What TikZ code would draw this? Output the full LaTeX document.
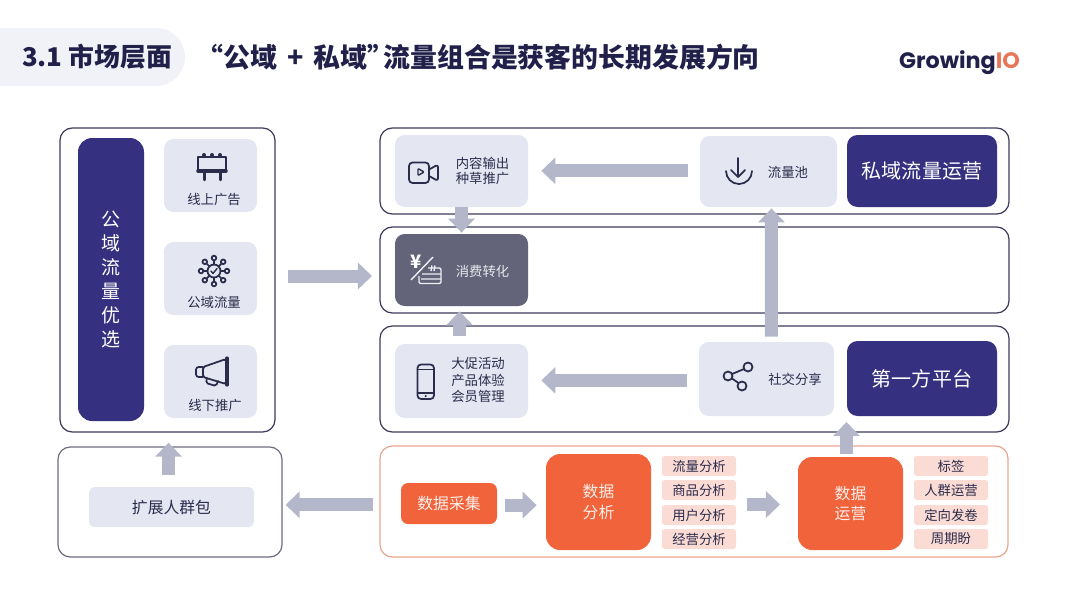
\documentclass[tikz,border=0pt]{standalone}
\usepackage{fontspec}
\setmainfont{Noto Sans CJK SC}
\newfontfamily\logofont{Poppins}
\usetikzlibrary{arrows.meta}

\definecolor{navy}{HTML}{35307F}
\definecolor{pillgray}{HTML}{F1F2F7}
\definecolor{cardblue}{HTML}{E4E7F2}
\definecolor{saledark}{HTML}{63637A}
\definecolor{brandorange}{HTML}{F0633B}
\definecolor{peach}{HTML}{FBDCD5}
\definecolor{framedark}{HTML}{3D3B5C}
\definecolor{frameorange}{HTML}{E9A48E}
\definecolor{framegray}{HTML}{6D6D7F}
\definecolor{flowgray}{HTML}{B4B7CA}
\definecolor{ink}{HTML}{2B2B4B}
\definecolor{titleink}{HTML}{20204A}
\definecolor{logoorange}{HTML}{E8775A}

\tikzset{
  wh/.style 2 args={minimum width=#1*0.02cm, minimum height=#2*0.02cm, inner sep=0pt},
  frame/.style={draw=framedark, line width=0.7pt, rounded corners=7pt},
  card/.style={fill=cardblue, rounded corners=5.5pt},
  darkcard/.style={fill=navy, rounded corners=6pt, text=white, align=center},
  orangebox/.style={fill=brandorange, rounded corners=4pt, text=white!90!brandorange, align=center},
  tagbox/.style={fill=peach, rounded corners=1.5pt, wh={74}{20}, font=\smalltext, text=ink},
  label/.style={font=\smalltext, text=ink, align=center, inner sep=0pt},
  flowarrow/.style={draw=flowgray, line width=7.4pt, -{Triangle[length=8pt,width=14.8pt]}},
  iconline/.style={draw=ink, line width=1pt, line join=round, line cap=round},
}
\newcommand{\smalltext}{\fontsize{7.6pt}{9.6pt}\selectfont}
\newcommand{\midtext}{\fontsize{9pt}{11.4pt}\selectfont}
\newcommand{\bigtext}{\fontsize{11.4pt}{14pt}\selectfont}

\begin{document}
\begin{tikzpicture}[x=0.02cm,y=-0.02cm]
\useasboundingbox (0,0) rectangle (1080,603);

% header
\fill[pillgray] (0,28) [rounded corners=16.5pt] -- (185,28) -- (185,86) [sharp corners] -- (0,86) -- cycle;
\node[text=titleink, font=\bfseries\fontsize{14.7pt}{16pt}\selectfont, inner sep=0pt] (section) at (97,57) {3.1 市场层面};
\node[text=titleink, font=\bfseries\fontsize{15.3pt}{17pt}\selectfont, inner sep=0pt, anchor=west] (headline) at (196,57) {“公域\hspace{2.3pt} + \hspace{2.3pt}私域”\hspace{-6.2pt}流量组合是获客的长期发展方向};
\node[font=\logofont\bfseries\fontsize{12.7pt}{15pt}\selectfont, inner sep=0pt] (logo) at (959.5,63) {\textcolor{titleink}{Growing}\textcolor{logoorange}{IO}};

% frames
\node[frame, wh={215}{304}] (pubframe) at (167.5,280) {};
\node[frame, wh={629}{86}] (privframe) at (694.5,171) {};
\node[frame, wh={629}{86}] (saleframe) at (694.5,270) {};
\node[frame, wh={629}{106}] (firstframe) at (694.5,379) {};
\node[frame, draw=framegray, wh={224}{110}] (expandframe) at (170,502) {};
\node[frame, draw=frameorange, wh={628}{111}] (dataframe) at (694,501.5) {};

% public traffic column
\node[darkcard, wh={66}{283}, rounded corners=8pt, font=\fontsize{10.8pt}{13.6pt}\selectfont] (pubcol) at (111,279.5) {公\\域\\流\\量\\优\\选};
\node[card, wh={93}{73}] (adcard) at (210.5,175.5) {};
\node[card, wh={93}{73}] (hubcard) at (210.5,278.5) {};
\node[card, wh={93}{73}] (pushcard) at (210.5,381.5) {};
\node[label] (adlabel) at (214,199) {线上广告};
\node[label] (hublabel) at (214,302) {公域流量};
\node[label] (pushlabel) at (215,405) {线下推广};

% billboard
\draw[iconline] (198,157) rectangle (226,171);
\draw[iconline, line width=2pt] (198,171) -- (226,171);
\draw[iconline, line width=1.4pt] (204.5,171) -- (204.5,180) (220.5,171) -- (220.5,180);
\fill[ink] (204,155) circle (2) (212,155) circle (2) (220,155) circle (2);

% hub
\begin{scope}[shift={(214,271)}]
\draw[iconline] (0,0) circle (6.5);
\draw[iconline, line width=0.8pt] (-3,0) -- (-1,2.5) -- (3,-2.5);
\draw[iconline]
  (0:6.5) -- (0:10.7) (0:13) circle (2.3)
  (45:6.5) -- (45:10.7) (45:13) circle (2.3)
  (90:6.5) -- (90:10.7) (90:13) circle (2.3)
  (135:6.5) -- (135:10.7) (135:13) circle (2.3)
  (180:6.5) -- (180:10.7) (180:13) circle (2.3)
  (225:6.5) -- (225:10.7) (225:13) circle (2.3)
  (270:6.5) -- (270:10.7) (270:13) circle (2.3)
  (315:6.5) -- (315:10.7) (315:13) circle (2.3);
\end{scope}

% megaphone
\draw[iconline, rounded corners=1pt] (203,367) -- (226,359) -- (226,384) -- (203,377) -- cycle;
\draw[iconline, rounded corners=1.5pt] (203,367) -- (196,367) -- (196,377) -- (203,377);
\draw[iconline, line width=1.8pt] (227,358) -- (227,385);
\draw[iconline, rounded corners=1pt] (207,378) -- (206,383) -- (216,386) -- (218,381);

% private row
\node[card, wh={133}{72}] (contentcard) at (461.5,171) {};
\node[label, text depth=0pt, font=\fontsize{7.6pt}{8.6pt}\selectfont] (contentlabel) at (482.5,170.5) {内容输出\\种草推广};
\node[card, wh={137}{71}] (poolcard) at (768.5,171.5) {};
\node[label] (poollabel) at (788,172) {流量池};
\node[darkcard, wh={150}{72}, font=\bigtext] (privbox) at (922,171) {私域流量运营};

% video icon
\draw[iconline, rounded corners=2pt] (409,162.5) rectangle (429,183);
\draw[iconline, line width=0.8pt, rounded corners=0.5pt] (418,168.5) -- (424,172) -- (418,175.5) -- cycle;
\draw[iconline, rounded corners=1.5pt] (430,169) -- (438,164.5) -- (438,181) -- (430,176.5);

% download icon
\draw[iconline] (738,158) -- (738,177) (731,170) -- (738,177) -- (745,170);
\draw[iconline] (726,171) arc (180:0:13);

% conversion row
\node[card, fill=saledark, wh={133}{72}] (salecard) at (461.5,270) {};
\node[label, text=white!85!saledark] (salelabel) at (482.5,271) {消费转化};
\node[text=white, font=\bfseries\fontsize{10.5pt}{12pt}\selectfont, inner sep=0pt] (yuan) at (416,262) {¥};
\draw[white!90!saledark, line width=0.8pt] (411,280) -- (433,257);
\draw[white!90!saledark, line width=0.8pt, rounded corners=0.8pt] (428,268) -- (441,268) -- (441,283.5) -- (419,283.5) -- (419,276);
\draw[white!90!saledark, line width=0.8pt] (422,274) -- (441,274) (421,279) -- (441,279) (431,271) -- (432,265.5) (434,271) -- (435,265.5);

% first party row
\node[card, wh={133}{74}] (promocard) at (461.5,381) {};
\node[label] (promolabel) at (478,380) {大促活动\\产品体验\\会员管理};
\node[card, wh={135}{74}] (sharecard) at (766.5,379) {};
\node[label] (sharelabel) at (795,379.5) {社交分享};
\node[darkcard, wh={150}{75}, font=\bigtext] (firstbox) at (922,378.5) {第一方平台};

% phone icon
\draw[iconline, rounded corners=2pt] (417.5,364.5) rectangle (434,399);
\draw[iconline, line width=0.8pt] (417.5,369.5) -- (434,369.5) (417.5,393) -- (434,393);
\fill[ink] (425.7,396) circle (1.2);

% share icon
\draw[iconline] (748,367) circle (4.5) (728,376) circle (4.5) (742,386) circle (4.5);
\draw[iconline] (732,374) -- (744,369) (732,378.5) -- (738.5,383);

% audience pack
\node[card, wh={165}{40}, rounded corners=3pt, font=\midtext, text=ink] (expandcard) at (171.5,507) {扩展人群包};

% data row
\node[orangebox, wh={96}{41}, font=\midtext] (collectbox) at (449,503.5) {数据采集};
\node[orangebox, wh={105}{96}, font=\midtext, rounded corners=8pt] (analysisbox) at (598.5,502) {数据\\分析};
\node[orangebox, wh={105}{93}, font=\midtext, rounded corners=8pt] (opsbox) at (850.5,503.5) {数据\\运营};

\node[tagbox] (tagflow) at (699,466) {流量分析};
\node[tagbox] (taggoods) at (699,490) {商品分析};
\node[tagbox] (taguser) at (699,515) {用户分析};
\node[tagbox] (tagbiz) at (699,539) {经营分析};

\node[tagbox] (taglabel) at (951,466) {标签};
\node[tagbox] (tagcrowd) at (951,490) {人群运营};
\node[tagbox] (tagsurvey) at (951,515) {定向发卷};
\node[tagbox] (tagcycle) at (951,539) {周期盼};

% free arrow ends
\coordinate (pubout) at (288,276);
\coordinate (salein) at (372,276);
\coordinate (tagsout) at (747,504.5);
\coordinate (opsin) at (780,504.5);
\coordinate (opsout) at (846.5,454);
\coordinate (firstin) at (846.5,422);

% flow arrows
\draw[flowarrow] (pubout) -- (salein);
\draw[flowarrow, shorten <=6.8pt, shorten >=7.4pt] ([yshift=0.4pt]poolcard.west) -- ([yshift=0.4pt]poolcard.west -| contentcard.east);
\draw[flowarrow, shorten >=0.6pt] (contentcard.south) -- (salecard.north);
\draw[flowarrow, shorten <=4.5pt, shorten >=2.8pt] ([xshift=-1.1pt]promocard.north) -- ([xshift=-1.1pt]salecard.south);
\draw[flowarrow, shorten <=6.8pt, shorten >=7.4pt] ([yshift=-0.8pt]sharecard.west) -- ([yshift=-0.8pt]sharecard.west -| promocard.east);
\draw[flowarrow, shorten <=2.8pt, shorten >=0.6pt] ([xshift=2.8pt]sharecard.north) -- ([xshift=1.7pt]poolcard.south);
\draw[flowarrow] (opsout) -- (firstin);
\draw[flowarrow, shorten <=6.8pt, shorten >=5.7pt] ([xshift=-1.7pt]expandcard.north) -- ([xshift=-1.7pt]expandcard.north |- pubframe.south);
\draw[flowarrow, shorten <=3.4pt, shorten >=1.7pt] ([yshift=-1.9pt]dataframe.west) -- ([yshift=-1.9pt]dataframe.west -| expandframe.east);
\draw[flowarrow, shorten <=4.5pt, shorten >=5.1pt] ([yshift=-0.9pt]collectbox.east) -- ([yshift=-0.9pt]collectbox.east -| analysisbox.west);
\draw[flowarrow] (tagsout) -- (opsin);

\end{tikzpicture}
\end{document}
